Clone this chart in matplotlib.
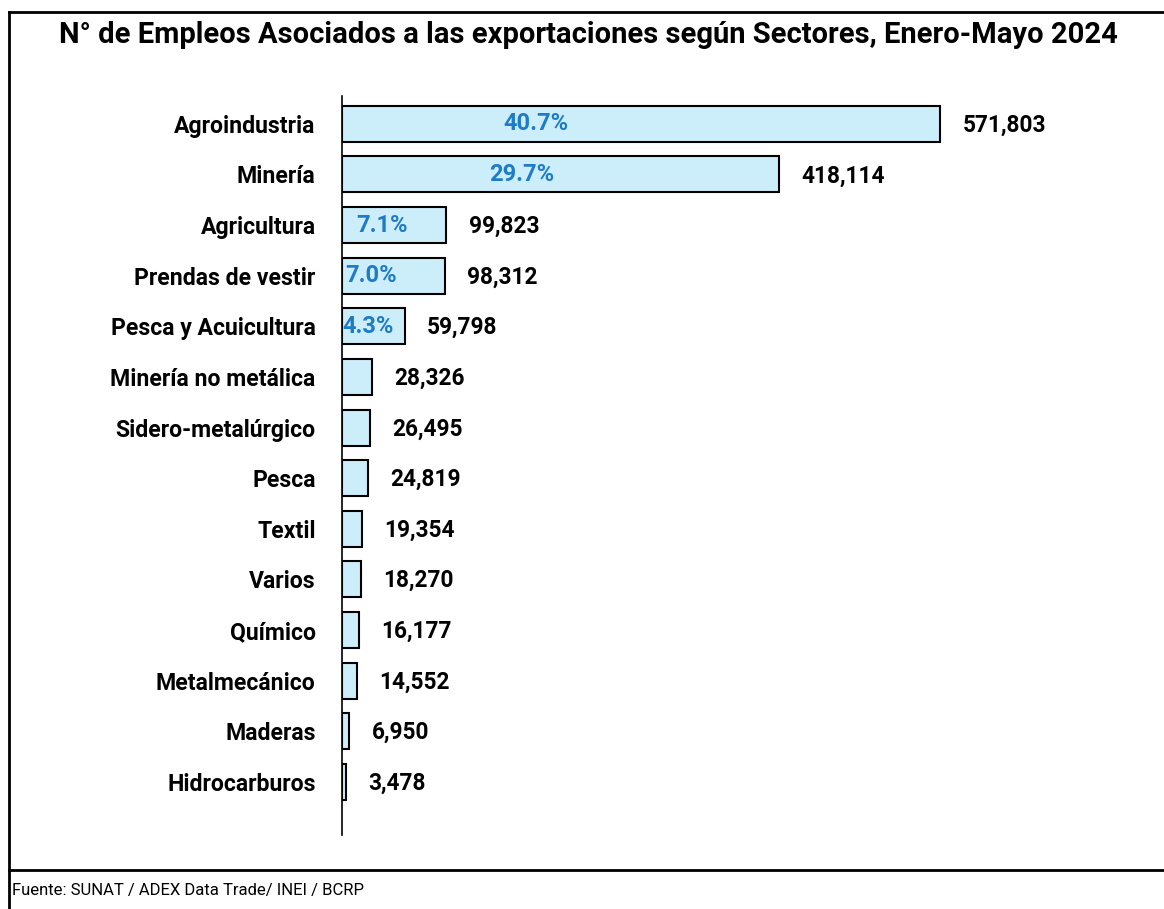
import matplotlib.pyplot as plt
from matplotlib.lines import Line2D

# Datos
sectores = ['Agroindustria', 'Minería', 'Agricultura', 'Prendas de vestir',
            'Pesca y Acuicultura', 'Minería no metálica', 'Sidero-metalúrgico',
            'Pesca', 'Textil', 'Varios', 'Químico', 'Metalmecánico',
            'Maderas', 'Hidrocarburos']
empleos = [571803, 418114, 99823, 98312, 59798, 28326, 26495,
           24819, 19354, 18270, 16177, 14552, 6950, 3478]
porcentajes = ['40.7%', '29.7%', '7.1%', '7.0%', '4.3%']
pos_pct = [185500, 172100, 38200, 27700, 24900]

titulo = 'N° de Empleos Asociados a las exportaciones según Sectores, Enero-Mayo 2024'
fuente = 'Fuente: SUNAT / ADEX Data Trade/ INEI / BCRP'

plt.rcParams['font.family'] = ['Roboto', 'DejaVu Sans']

W, H = 1164, 909
fig = plt.figure(figsize=(W / 100, H / 100), dpi=100)
ax = fig.add_axes([342 / W, 1 - 835 / H, (1100 - 342) / W, (835 - 96) / H])

y = range(len(sectores))
ax.barh(y, empleos, height=0.71, color='#CCEEFB', edgecolor='black', linewidth=1.5)

ax.set_xlim(0, 758 * 956)
ax.set_ylim(14.05, -0.55)
ax.set_yticks(list(y))
ax.set_yticklabels(sectores, fontsize=16.6, fontweight='bold')
ax.tick_params(axis='y', length=0, pad=19)
ax.set_xticks([])
for s in ['top', 'right', 'bottom']:
    ax.spines[s].set_visible(False)
ax.spines['left'].set_linewidth(1.2)

for i, v in enumerate(empleos):
    ax.annotate(f'{v:,}', xy=(v, i), xytext=(16, -1), textcoords='offset points',
                va='center', ha='left', fontsize=16.3, fontweight='bold')

for i, (p, xp) in enumerate(zip(porcentajes, pos_pct)):
    ax.text(xp, i, p, va='center', ha='center', fontsize=17,
            fontweight='bold', color='#1F7BC8')

# Título y fuente
fig.text(588 / W, 1 - 35 / H, titulo, ha='center', va='center',
         fontsize=21, fontweight='bold')
fig.text(12 / W, 1 - 890 / H, fuente, ha='left', va='center', fontsize=12)

# Marco
x0, ytop, ysep = 9 / W, 1 - 12 / H, 1 - 870 / H
for xs, ys in [([x0, 1], [ytop, ytop]), ([x0, x0], [0, ytop]), ([x0, 1], [ysep, ysep])]:
    fig.add_artist(Line2D(xs, ys, color='black', linewidth=2, transform=fig.transFigure))

fig.savefig('out.png', dpi=100)
